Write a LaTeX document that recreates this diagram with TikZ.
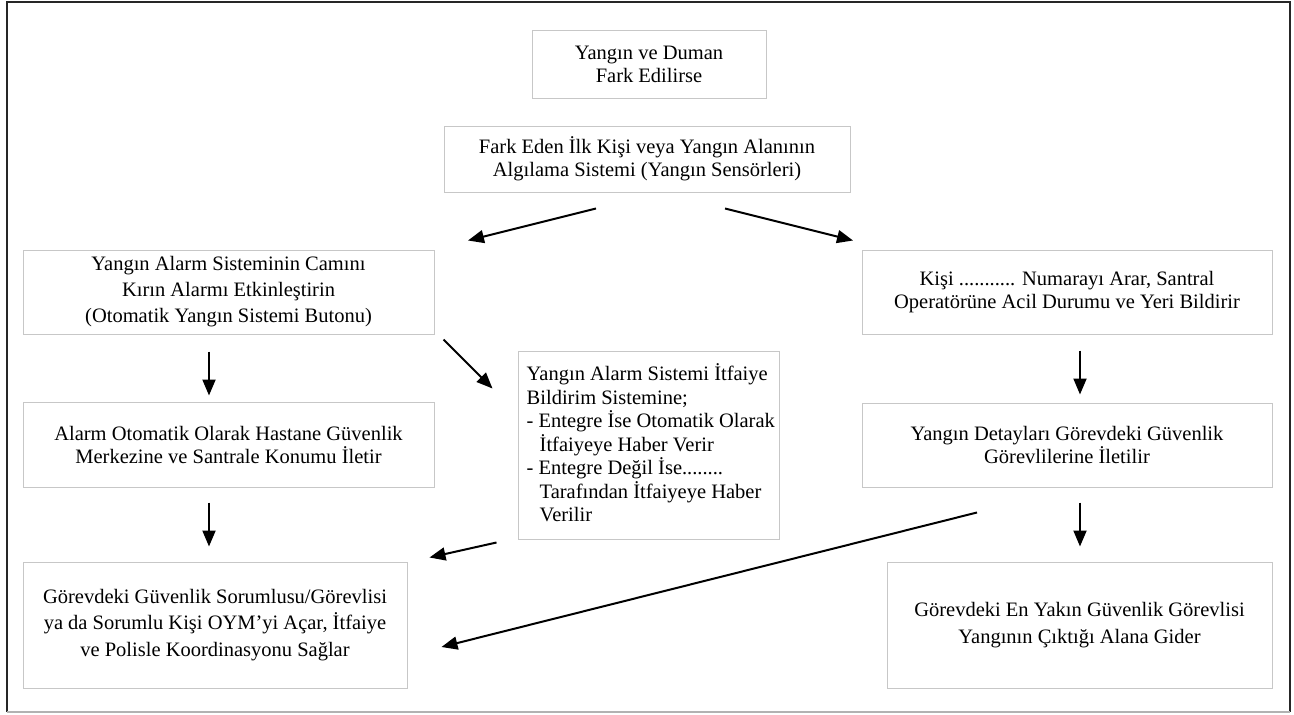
\documentclass[tikz,border=0pt]{standalone}
\usepackage{fontspec}
\setmainfont{Liberation Serif}
\usetikzlibrary{arrows.meta,calc}

\begin{document}
\begin{tikzpicture}[x=1pt,y=-1pt,
  box/.style={draw=black!22, line width=1pt, inner sep=0pt, align=center,
    font=\fontsize{20.5}{23}\selectfont},
  arr/.style={line width=2pt, -{Triangle[length=16pt,width=13pt]}}]
\useasboundingbox (0,0) rectangle (1294,715);
\fill[white] (0,0) rectangle (1294,715);

% outer frame
\draw[line width=1.2pt, black!85] (7,712) -- (7,2) -- (1290,2) -- (1290,712);
\draw[line width=1.2pt, black!30] (7,712) -- (1290,712);

% boxes
\node[box, minimum width=234pt, minimum height=68pt] (b1) at (649,64)
  {Yangın ve Duman\\Fark Edilirse};
\node[box, minimum width=406pt, minimum height=66pt] (b2) at (647,159)
  {Fark Eden İlk Kişi veya Yangın Alanının\\Algılama Sistemi (Yangın Sensörleri)};
\node[box, minimum width=411pt, minimum height=84pt] (b3) at (228.5,292)
  {Yangın Alarm Sisteminin Camını\\[3pt]Kırın Alarmı Etkinleştirin\\[3pt](Otomatik Yangın Sistemi Butonu)};
\node[box, minimum width=410pt, minimum height=84pt] (b4) at (1067,292)
  {Kişi ........... Numarayı Arar, Santral\\Operatörüne Acil Durumu ve Yeri Bildirir};
\node[box, minimum width=261pt, minimum height=188pt] (b5) at (648.5,445) {};
\node[anchor=north west, inner sep=0pt, align=left,
  font=\fontsize{20.5}{23.5}\selectfont] (b5text) at ($(b5.north west)+(9,13)$)
  {Yangın Alarm Sistemi İtfaiye\\
   Bildirim Sistemine;\\
   - Entegre İse Otomatik Olarak\\
   \hspace*{13pt}İtfaiyeye Haber Verir\\
   - Entegre Değil İse........\\
   \hspace*{13pt}Tarafından İtfaiyeye Haber\\
   \hspace*{13pt}Verilir};
\node[box, minimum width=411pt, minimum height=85pt] (b6) at (228.5,444.5)
  {Alarm Otomatik Olarak Hastane Güvenlik\\Merkezine ve Santrale Konumu İletir};
\node[box, minimum width=410pt, minimum height=84pt] (b7) at (1067,445)
  {Yangın Detayları Görevdeki Güvenlik\\Görevlilerine İletilir};
\node[box, minimum width=384pt, minimum height=126pt] (b8) at (215,625)
  {Görevdeki Güvenlik Sorumlusu/Görevlisi\\[3.5pt]ya da Sorumlu Kişi OYM’yi Açar, İtfaiye\\[3.5pt]ve Polisle Koordinasyonu Sağlar};
\node[box, minimum width=385pt, minimum height=126pt] (b9) at (1079.5,625)
  {Görevdeki En Yakın Güvenlik Görevlisi\\[3.5pt]Yangının Çıktığı Alana Gider};

% connectors
\draw[arr] ($(b2.south)+(-51,16)$) -- ($(b3.north)+(239.5,-9)$);
\draw[arr] ($(b2.south)+(78,16)$) -- ($(b4.north)+(-214,-9)$);
\draw[arr] ($(b3.south)+(-19.5,17)$) -- ($(b6.north)+(-19.5,-6)$);
\draw[arr] ($(b3.south east)+(9,5)$) -- ($(b5.north west)+(-25,38)$);
\draw[arr] ($(b6.south)+(-19.5,15)$) -- ($(b8.north)+(-6,-15)$);
\draw[arr] ($(b5.south west)+(-21,3)$) -- ($(b8.north east)+(22,-4)$);
\draw[arr] ($(b4.south)+(13,16)$) -- ($(b7.north)+(13,-8)$);
\draw[arr] ($(b7.south)+(13,15)$) -- ($(b9.north)+(0.5,-15)$);
\draw[arr] ($(b7.south)+(-90,25)$) -- ($(b8.east)+(34,22)$);
\end{tikzpicture}
\end{document}
